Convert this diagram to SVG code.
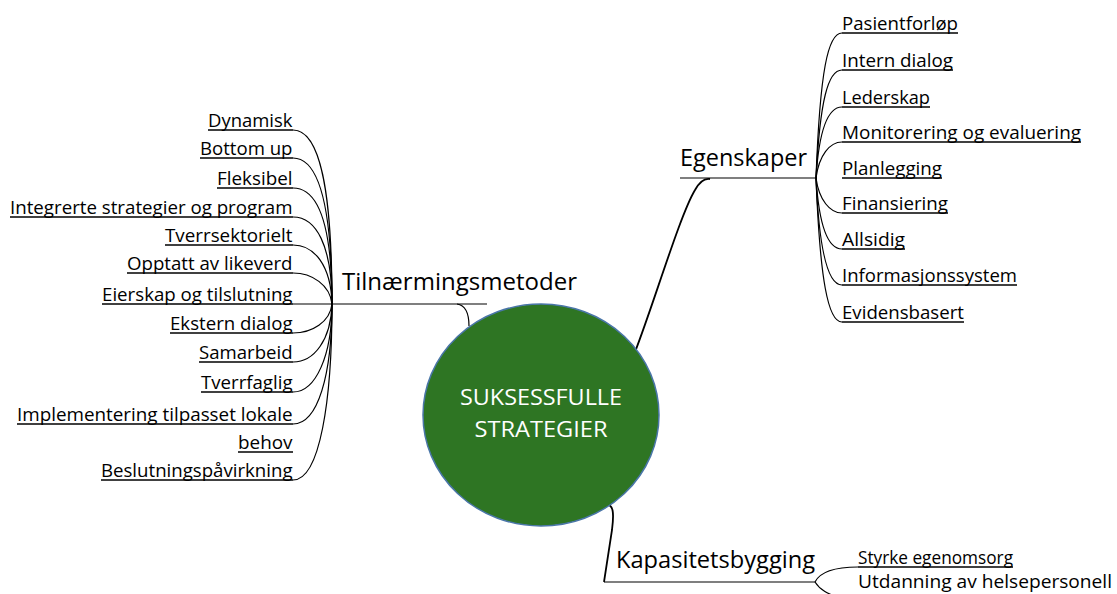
<svg xmlns="http://www.w3.org/2000/svg" width="1117" height="594" viewBox="0 0 1117 594">
<style>
.item{font-family:"Open Sans","Liberation Sans",sans-serif;font-size:18px;fill:#000;}
.title{font-family:"Open Sans","Liberation Sans",sans-serif;font-size:24px;fill:#000;}
.center{font-family:"Open Sans","Liberation Sans",sans-serif;font-size:22px;fill:#fff;text-anchor:middle;}
.ul{stroke:#000;stroke-width:1.3;fill:none;}
.conn path,.conn line{stroke:#000;stroke-width:1.2;fill:none;}
.thick{stroke-width:1.8 !important;}
</style>
<rect width="1117" height="594" fill="#fff"/>
<g id="connectors" class="conn">
<path d="M293,130 C320,130 332,190 332,304"/>
<path d="M293,158 C319,158 332,205 332,304"/>
<path d="M293,188 C318,188 332,225 332,304"/>
<path d="M293,217 C316,217 332,245 332,304"/>
<path d="M293,245 C314,245 331,265 332,304"/>
<path d="M293,273 C312,273 330,285 332,304"/>
<path d="M293,333 C312,333 330,322 332,304"/>
<path d="M293,362 C314,362 331,340 332,304"/>
<path d="M293,392 C316,392 332,355 332,304"/>
<path d="M293,424 C318,424 332,375 332,304"/>
<path d="M293,480 C320,480 332,400 332,304"/>
<line x1="293" y1="304" x2="487" y2="304"/>
<path d="M457,304 C464,305 469,312 469,326"/>
<path class="thick" d="M635,352 C655,300 680,215 695,190 C700,181 705,178 710,179"/>
<line x1="680" y1="178" x2="817" y2="178"/>
<path d="M842,33 C828,33 820,70 816,178"/>
<path d="M842,70 C828,70 820,100 816,178"/>
<path d="M842,107 C828,107 819,130 816,178"/>
<path d="M842,142 C830,142 819,155 816,178"/>
<path d="M842,213 C830,213 819,200 816,178"/>
<path d="M842,249 C828,249 819,225 816,178"/>
<path d="M842,285 C828,285 819,250 816,178"/>
<path d="M842,322 C828,322 820,280 816,178"/>
<path class="thick" d="M605,505 C614,503 614,514 612,530 L604,582"/>
<line x1="604" y1="582" x2="815" y2="582"/>
<path d="M815,582 C820,572 835,567 858,567"/>
<path d="M815,582 C820,590 828,594 840,598"/>
</g>
<g id="center">
<ellipse cx="541" cy="415" rx="118" ry="111" fill="#2e7523" stroke="#4a76a8" stroke-width="1.5"/>
<text class="center" x="541" y="405" textLength="162" lengthAdjust="spacingAndGlyphs">SUKSESSFULLE</text>
<text class="center" x="541" y="437" textLength="133" lengthAdjust="spacingAndGlyphs">STRATEGIER</text>
</g>
<g id="tilnaermingsmetoder">
<text class="title" x="342" y="290" textLength="235" lengthAdjust="spacingAndGlyphs">Tilnærmingsmetoder</text>
</g>
<g id="egenskaper">
<text class="title" x="680" y="166" textLength="127" lengthAdjust="spacingAndGlyphs">Egenskaper</text>
</g>
<g id="kapasitetsbygging">
<text class="title" x="616" y="568" textLength="199" lengthAdjust="spacingAndGlyphs">Kapasitetsbygging</text>
</g>
<g id="left-items" text-anchor="end">
<g id="l1"><text class="item" x="292.5" y="127" textLength="84.5" lengthAdjust="spacingAndGlyphs">Dynamisk</text><line class="ul" x1="208" y1="130" x2="293" y2="130"/></g>
<g id="l2"><text class="item" x="292.5" y="155" textLength="92.5" lengthAdjust="spacingAndGlyphs">Bottom up</text><line class="ul" x1="200" y1="158" x2="293" y2="158"/></g>
<g id="l3"><text class="item" x="292.5" y="185" textLength="75.5" lengthAdjust="spacingAndGlyphs">Fleksibel</text><line class="ul" x1="217" y1="188" x2="293" y2="188"/></g>
<g id="l4"><text class="item" x="292.5" y="214" textLength="282.5" lengthAdjust="spacingAndGlyphs">Integrerte strategier og program</text><line class="ul" x1="10" y1="217" x2="293" y2="217"/></g>
<g id="l5"><text class="item" x="292.5" y="242" textLength="127.5" lengthAdjust="spacingAndGlyphs">Tverrsektorielt</text><line class="ul" x1="165" y1="245" x2="293" y2="245"/></g>
<g id="l6"><text class="item" x="292.5" y="270" textLength="165.5" lengthAdjust="spacingAndGlyphs">Opptatt av likeverd</text><line class="ul" x1="127" y1="273" x2="293" y2="273"/></g>
<g id="l7"><text class="item" x="292.5" y="301" textLength="190.5" lengthAdjust="spacingAndGlyphs">Eierskap og tilslutning</text><line class="ul" x1="102" y1="304" x2="293" y2="304"/></g>
<g id="l8"><text class="item" x="292.5" y="330" textLength="122.5" lengthAdjust="spacingAndGlyphs">Ekstern dialog</text><line class="ul" x1="170" y1="333" x2="293" y2="333"/></g>
<g id="l9"><text class="item" x="292.5" y="359" textLength="93.5" lengthAdjust="spacingAndGlyphs">Samarbeid</text><line class="ul" x1="199" y1="362" x2="293" y2="362"/></g>
<g id="l10"><text class="item" x="292.5" y="389" textLength="91.5" lengthAdjust="spacingAndGlyphs">Tverrfaglig</text><line class="ul" x1="201" y1="392" x2="293" y2="392"/></g>
<g id="l11"><text class="item" x="292.5" y="421" textLength="275.5" lengthAdjust="spacingAndGlyphs">Implementering tilpasset lokale</text><line class="ul" x1="17" y1="424" x2="293" y2="424"/>
<text class="item" x="292.5" y="449" textLength="54.5" lengthAdjust="spacingAndGlyphs">behov</text><line class="ul" x1="238" y1="452" x2="293" y2="452"/></g>
<g id="l12"><text class="item" x="292.5" y="477" textLength="191.5" lengthAdjust="spacingAndGlyphs">Beslutningspåvirkning</text><line class="ul" x1="101" y1="480" x2="293" y2="480"/></g>
</g>
<g id="right-items">
<g id="r1"><text class="item" x="842" y="30" textLength="116" lengthAdjust="spacingAndGlyphs">Pasientforløp</text><line class="ul" x1="842" y1="33" x2="958" y2="33"/></g>
<g id="r2"><text class="item" x="842" y="67" textLength="111" lengthAdjust="spacingAndGlyphs">Intern dialog</text><line class="ul" x1="842" y1="70" x2="953" y2="70"/></g>
<g id="r3"><text class="item" x="842" y="104" textLength="88" lengthAdjust="spacingAndGlyphs">Lederskap</text><line class="ul" x1="842" y1="107" x2="930" y2="107"/></g>
<g id="r4"><text class="item" x="842" y="139" textLength="239" lengthAdjust="spacingAndGlyphs">Monitorering og evaluering</text><line class="ul" x1="842" y1="142" x2="1081" y2="142"/></g>
<g id="r5"><text class="item" x="842" y="175" textLength="100" lengthAdjust="spacingAndGlyphs">Planlegging</text><line class="ul" x1="842" y1="178" x2="942" y2="178"/></g>
<g id="r6"><text class="item" x="842" y="210" textLength="106" lengthAdjust="spacingAndGlyphs">Finansiering</text><line class="ul" x1="842" y1="213" x2="948" y2="213"/></g>
<g id="r7"><text class="item" x="842" y="246" textLength="63" lengthAdjust="spacingAndGlyphs">Allsidig</text><line class="ul" x1="842" y1="249" x2="905" y2="249"/></g>
<g id="r8"><text class="item" x="842" y="282" textLength="175" lengthAdjust="spacingAndGlyphs">Informasjonssystem</text><line class="ul" x1="842" y1="285" x2="1017" y2="285"/></g>
<g id="r9"><text class="item" x="842" y="319" textLength="122" lengthAdjust="spacingAndGlyphs">Evidensbasert</text><line class="ul" x1="842" y1="322" x2="964" y2="322"/></g>
</g>
<g id="kap-items">
<g id="k1"><text class="item" x="858" y="564" textLength="155" lengthAdjust="spacingAndGlyphs">Styrke egenomsorg</text><line class="ul" x1="858" y1="567" x2="1013" y2="567"/></g>
<g id="k2"><text class="item" x="858" y="588" font-size="17.5" textLength="254" lengthAdjust="spacingAndGlyphs">Utdanning av helsepersonell</text></g>
</g>
</svg>
